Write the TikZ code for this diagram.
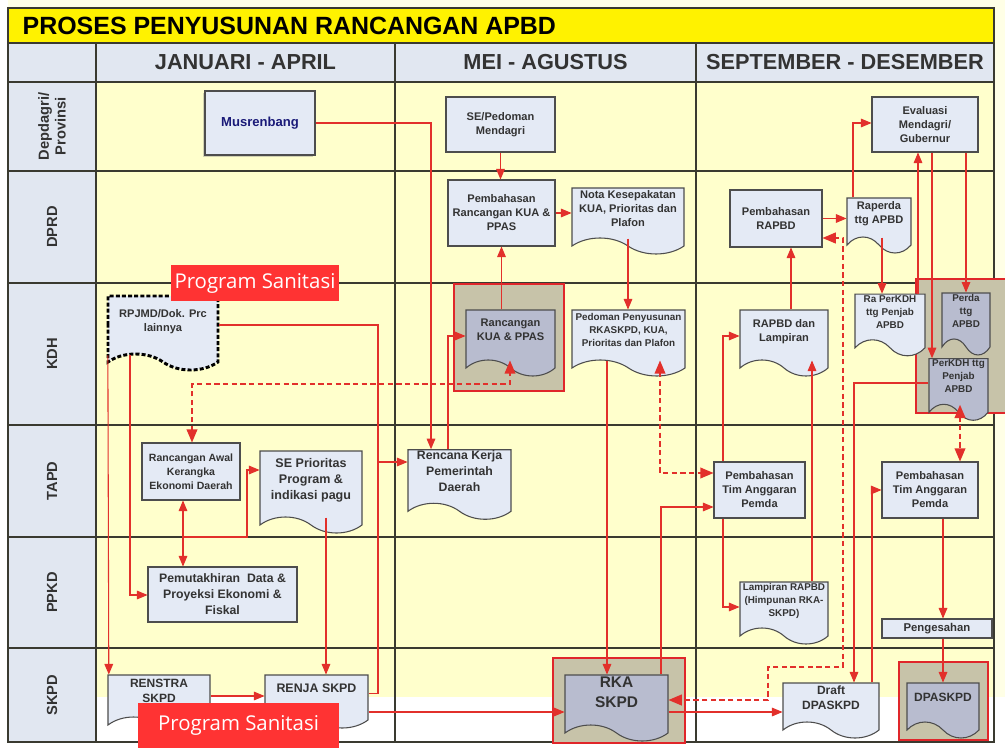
\documentclass[tikz,border=0pt]{standalone}
\usepackage{fontspec}
\setmainfont{Liberation Sans}
\newfontfamily\tagfont{Open Sans}
\usepackage{tikz}
\usetikzlibrary{positioning,arrows,shapes.symbols,shadows}

\definecolor{pagebg}{HTML}{FFFFE6}
\definecolor{gridline}{HTML}{3A3A30}
\definecolor{lanefill}{HTML}{FFFFCC}
\definecolor{headfill}{HTML}{E1E7F1}
\definecolor{boxfill}{HTML}{E4EAF5}
\definecolor{boxline}{HTML}{4D4D4D}
\definecolor{hlfill}{HTML}{C7C3A9}
\definecolor{hldoc}{HTML}{B8BCCF}
\definecolor{hlred}{HTML}{E0262A}
\definecolor{flowred}{HTML}{E2302B}
\definecolor{txtgray}{HTML}{333333}
\definecolor{musblue}{HTML}{1A1A78}
\definecolor{tagred}{HTML}{FF3333}

\tikzset{
	box/.style={draw=boxline, fill=boxfill, line width=0.8pt, text=txtgray, align=center, inner sep=1pt, font=\bfseries\fontsize{8.3}{10.5}\selectfont},
	docu/.style={box, tape, tape bend top=none, tape bend bottom=out and in, tape bend height=12pt, text depth=7.5pt},
	hidoc/.style={docu, fill=hldoc},
	sz/.style 2 args={minimum width=#1*0.75pt, minimum height=#2*0.75pt},
	txt/.style 2 args={font=\bfseries\fontsize{#1}{#2}\selectfont},
	hilite/.style={draw=hlred, line width=2.2pt, fill=hlfill},
	flow/.style={draw=flowred, line width=0.8pt, -triangle 45},
	dflow/.style={draw=flowred, line width=1.3pt, dash pattern=on 4pt off 2.5pt, triangle 45-triangle 45},
	lane/.style={rotate=90, align=center, text=txtgray, font=\bfseries\fontsize{11}{12.5}\selectfont},
	head/.style={text=txtgray, font=\bfseries\fontsize{16.3}{18}\selectfont},
	tag/.style={fill=tagred, text=white, inner sep=0pt, font=\tagfont\fontsize{15.3}{17}\selectfont}
}

\begin{document}
\begin{tikzpicture}[x=0.75pt, y=-0.75pt]
	\useasboundingbox (0,0) rectangle (1005,748);
	\clip (0,0) rectangle (1005,748);
	
	% latar dan jalur
	\fill[pagebg] (8,0) rectangle (1005,697);
	\fill[lanefill] (96,82) rectangle (994,697);
	\fill[headfill] (8,43) rectangle (994,82);
	\fill[headfill] (8,82) rectangle (96,742);
	\filldraw[fill=yellow, draw=gridline, line width=1.1pt] (8,8) rectangle (994,43);
	\draw[gridline, line width=1.1pt] (8,43) rectangle (994,742);
	\foreach \y in {82,171,283,425,537,648}
		\draw[gridline, line width=1.1pt] (8,\y) -- (994,\y);
	\foreach \x in {96,395,696}
		\draw[gridline, line width=1.1pt] (\x,43) -- (\x,742);
	
	\node[anchor=west, font=\bfseries\fontsize{18.7}{20}\selectfont] (judul) at (18,25.5) {PROSES PENYUSUNAN RANCANGAN APBD};
	\node[head] (janapr) at (245.5,62.5) {JANUARI - APRIL};
	\node[head] (meiags) at (545.5,62.5) {MEI - AGUSTUS};
	\node[head] (sepdes) at (845,62.5) {SEPTEMBER - DESEMBER};
	
	\node[lane] (ldep) at (52,126.5) {Depdagri/\\Provinsi};
	\node[lane] (ldprd) at (52,227) {DPRD};
	\node[lane] (lkdh) at (52,354) {KDH};
	\node[lane] (ltapd) at (52,481) {TAPD};
	\node[lane] (lppkd) at (52,592.5) {PPKD};
	\node[lane] (lskpd) at (52,695) {SKPD};
	
	% kotak sorotan
	\node[hilite, sz={110}{107}] (hlkua) at (509,337.5) {};
	\node[hilite, sz={130}{134}] (hlperda) at (981,346) {};
	\node[hilite, sz={132}{85}] (hlrka) at (619,700.5) {};
	\node[hilite, sz={89}{78}] (hldpa) at (943.5,701) {};
	
	% Januari - April
	\node[box, sz={110}{64}, txt={9.8}{12}, text=musblue, drop shadow={shadow xshift=-1.5pt, shadow yshift=-1.5pt, opacity=0.35}] (mus) at (260,123) {Musrenbang};
	\node[docu, sz={110}{74}, draw=black, line width=2.2pt, dash pattern=on 3pt off 1.6pt] (rpjmd) at (163,325) {RPJMD/Dok. Prc\\lainnya};
	\node[box, sz={98}{57}, txt={7.9}{10.5}] (raw) at (191,471.5) {Rancangan Awal\\Kerangka\\Ekonomi Daerah};
	\node[docu, sz={102}{82}, txt={9.4}{12}] (sepri) at (311,484) {SE Prioritas\\Program \&\\indikasi pagu};
	\node[box, sz={149}{55}, txt={9.2}{12}] (pemut) at (222.5,594.5) {Pemutakhiran~ Data \&\\Proyeksi Ekonomi \&\\Fiskal};
	\node[docu, sz={102}{58}, txt={9}{11.2}] (renstra) at (159,696) {RENSTRA\\SKPD};
	\node[docu, sz={103}{53}, txt={9.3}{11.5}] (renja) at (316.5,693.5) {RENJA SKPD};
	
	% Mei - Agustus
	\node[box, sz={109}{55}] (sepm) at (500.5,124.5) {SE/Pedoman\\Mendagri};
	\node[box, sz={107}{66}] (pkua) at (501.5,213) {Pembahasan\\Rancangan KUA \&\\PPAS};
	\node[docu, sz={112}{66}] (nota) at (628,213) {Nota Kesepakatan\\KUA, Prioritas dan\\Plafon};
	\node[hidoc, sz={89}{66}] (rkua) at (510.5,335) {Rancangan\\KUA \& PPAS};
	\node[docu, sz={113}{66}, txt={7.4}{9.8}] (pedo) at (628.5,335) {Pedoman Penyusunan\\RKASKPD, KUA,\\Prioritas dan Plafon};
	\node[docu, sz={103}{67}, txt={9.2}{12}] (rkpd) at (459.5,476.5) {Rencana Kerja\\Pemerintah\\Daerah};
	\node[hidoc, sz={103}{66}, txt={11.6}{15}, text depth=12pt] (rka) at (616.5,700) {RKA\\SKPD};
	
	% September - Desember
	\node[box, sz={106}{55}] (evl) at (925,124.5) {Evaluasi\\Mendagri/\\Gubernur};
	\node[box, sz={92}{57}] (prapbd) at (776,218.5) {Pembahasan\\RAPBD};
	\node[docu, sz={64}{55}] (raperda) at (879,217.5) {Raperda\\ttg APBD};
	\node[docu, sz={88}{66}] (rapbdl) at (784,335) {RAPBD dan\\Lampiran};
	\node[docu, sz={70}{50}, txt={7.4}{9.8}] (rakdh) at (890,317) {Ra PerKDH\\ttg Penjab\\APBD};
	\node[hidoc, sz={48}{48}, txt={7.4}{9.8}] (perda) at (966,316) {Perda\\ttg\\APBD};
	\node[hidoc, sz={59}{47}, txt={7.4}{9.8}] (perkdh) at (958.5,381.5) {PerKDH ttg\\Penjab\\APBD};
	\node[box, sz={91}{56}] (tim1) at (759.5,490) {Pembahasan\\Tim Anggaran\\Pemda};
	\node[box, sz={96}{56}] (tim2) at (930,490) {Pembahasan\\Tim Anggaran\\Pemda};
	\node[docu, sz={88}{62}, txt={7.4}{9.8}] (lamp) at (784,605) {Lampiran RAPBD\\(Himpunan RKA-\\SKPD)};
	\node[box, sz={110}{19}, txt={8.5}{10}] (peng) at (937,628.5) {Pengesahan};
	\node[docu, sz={96}{55}, txt={9}{11.5}] (draft) at (831,702.5) {Draft\\DPASKPD};
	\node[hidoc, sz={72}{55}, txt={9}{11.5}] (dpa) at (943,702.5) {DPASKPD};
	
	% titik belok
	\coordinate (b1) at (431,123);
	\coordinate (b2) at (378,462);
	\coordinate (b3) at (130,595);
	\coordinate (b4) at (183,537);
	\coordinate (b5) at (247,470);
	\coordinate (b6) at (326,600);
	\coordinate (b7) at (400,712);
	\coordinate (b8) at (448,336);
	\coordinate (b9) at (607,500);
	\coordinate (b10) at (660,473);
	\coordinate (b11) at (661,507);
	\coordinate (b12) at (723,336);
	\coordinate (b13) at (723,607);
	\coordinate (b14) at (812,450);
	\coordinate (b15) at (791,280);
	\coordinate (b16) at (853,123);
	\coordinate (b17) at (882,270);
	\coordinate (b18) at (918,220);
	\coordinate (b19) at (932,250);
	\coordinate (b20) at (960,430);
	\coordinate (b21) at (854,383);
	\coordinate (b22) at (872,490);
	\coordinate (b23) at (943,570);
	\coordinate (b24) at (720,712);
	\coordinate (d1) at (843,238);
	\coordinate (d2) at (843,667);
	\coordinate (d3) at (768,667);
	\coordinate (d4) at (768,700);
	\coordinate (d5) at (192,384);
	\coordinate (d6) at (510,384);
	
	% alur
	\draw[flow] (mus.east) -- (b1) -- (b1 |- rkpd.north);
	\draw[flow] (rpjmd.east) -| (b2) -- (b2 -| rkpd.west);
	\draw[flowred, line width=0.8pt] (renja.east) -| (b2);
	\draw[flow] ([xshift=1pt]rpjmd.south west) -- ([xshift=1pt]renstra.north west);
	\draw[flow] (b3 |- rpjmd.south) -- (b3) -- (b3 -| pemut.west);
	\draw[flow, triangle 45-triangle 45] (b4 |- raw.south) -- (b4 |- pemut.north);
	\draw[flow] (b4) -| (b5) -- (b5 -| sepri.west);
	\draw[flow] (b6 |- sepri.south) -- (b6 |- renja.north);
	\draw[flow] (renstra.east) -- (renstra.east -| renja.west);
	\draw[flow] (b7 -| renja.east) -- (b7 -| rka.west);
	\draw[flow] (b8 |- rkpd.north) -- (b8) -- (b8 -| rkua.west);
	\draw[flow] (pkua.south |- rkua.north) -- (pkua.south);
	\draw[flow] (sepm.south) -- (sepm.south |- pkua.north);
	\draw[flow] (pkua.east) -- (pkua.east -| nota.west);
	\draw[flow] (nota.south) -- (nota.south |- pedo.north);
	\draw[flow] (b9 |- pedo.south) -- (b9 |- rka.north);
	\draw[flow] (b11 |- rka.north) -- (b11) -- (b11 -| tim1.west);
	\draw[flow] (b12 |- tim1.north) -- (b12) -- (b12 -| rapbdl.west);
	\draw[flow] (b13 |- tim1.south) -- (b13) -- (b13 -| lamp.west);
	\draw[flow] (b14 |- lamp.north) -- (b14 |- rapbdl.south);
	\draw[flow] (b15 |- rapbdl.north) -- (b15 |- prapbd.south);
	\draw[flow] (prapbd.east) -- (prapbd.east -| raperda.west);
	\draw[flow] (b16 |- raperda.north) -- (b16) -- (b16 -| evl.west);
	\draw[flow] (b17 |- raperda.south) -- (b17 |- rakdh.north);
	\draw[flow] (b18 |- rakdh.north) -- (b18 |- evl.south);
	\draw[flow] (perda.north |- evl.south) -- (perda.north);
	\draw[flow] (b19 |- evl.south) -- (b19 |- perkdh.north);
	\draw[flow] (perkdh.west |- b21) -- (b21) -- (b21 |- draft.north);
	\draw[flow] (b22 |- draft.north) -- (b22) -- (b22 -| tim2.west);
	\draw[flow] (b23 |- tim2.south) -- (b23 |- peng.north);
	\draw[flow] (b23 |- peng.south) -- (b23 |- dpa.north);
	\draw[flow] (b24 -| rka.east) -- (b24 -| draft.west);
	
	% alur putus-putus
	\draw[dflow] (d5 |- raw.north) -- (d5) -- (d6) -- (d6 |- rkua.south);
	\draw[dflow] (b10 |- pedo.south) -- (b10) -- (b10 -| tim1.west);
	\draw[dflow] (d1 -| prapbd.east) -- (d1) -- (d2) -- (d3) -- (d4) -- (d4 -| rka.east);
	\draw[dflow] (b20 |- perkdh.south) -- (b20 |- tim2.north);
	
	% label sanitasi
	\node[tag, sz={168}{36}] (tagkdh) at (255,283) {Program Sanitasi};
	\node[tag, sz={201}{45}] (tagskpd) at (238.5,725.5) {Program Sanitasi};
\end{tikzpicture}
\end{document}
